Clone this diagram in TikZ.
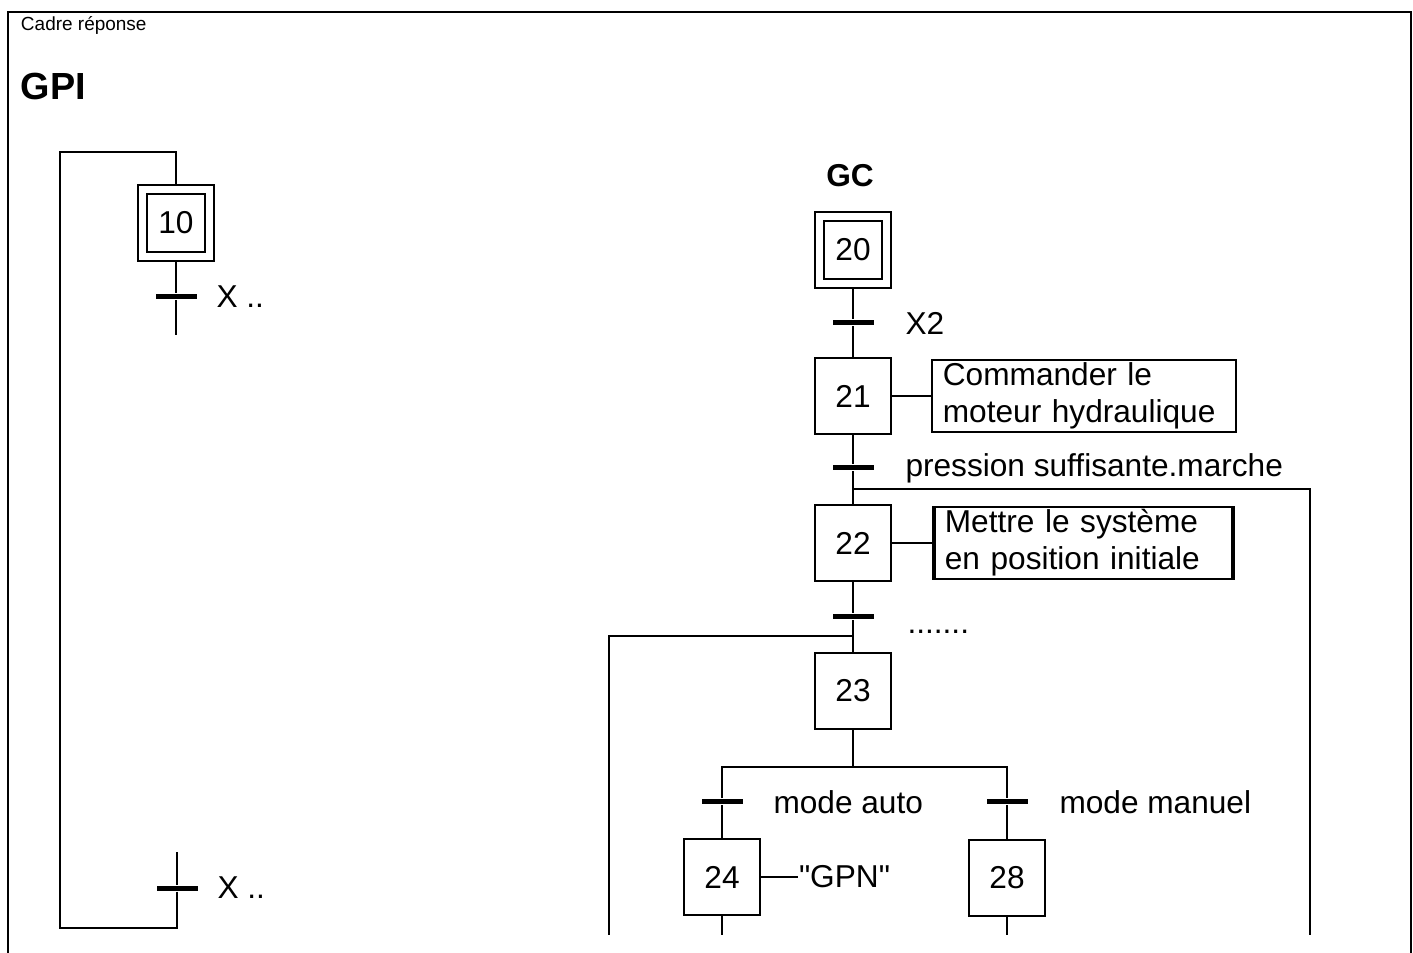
\documentclass[tikz,border=0pt]{standalone}
\usepackage{fontspec}
\setmainfont[Ligatures=TeXOff]{Liberation Sans}
\usetikzlibrary{positioning}

\tikzset{
  etape/.style={draw, line width=0.4mm, minimum size=15.2mm, inner sep=0pt, font=\fontsize{18}{21}\selectfont},
  etapeinit/.style={etape, double, double distance=1.5mm, line width=0.35mm, minimum size=13.4mm, outer sep=1.1mm},
  trans/.style={fill, minimum width=8.2mm, minimum height=1mm, inner sep=0pt},
  recep/.style={inner sep=0pt, anchor=west, font=\fontsize{18}{21}\selectfont},
  action/.style={draw, line width=0.35mm, inner xsep=2.2mm, inner ysep=0pt, minimum height=14.4mm, align=left, font=\fontsize{18}{21}\selectfont},
}

\begin{document}
\begin{tikzpicture}[x=0.2mm, y=-0.2mm, line width=0.4mm]
\useasboundingbox (0,0) rectangle (1413,953);
\draw[line width=0.3mm] (8,953) -- (8,12) -- (1411,12) -- (1411,953);

\node[anchor=west, inner sep=0pt, font=\fontsize{10.8}{13}\selectfont] (cadre) at (20,25) {Cadre réponse};
\node[anchor=west, inner sep=0pt, font=\bfseries\fontsize{21.5}{24}\selectfont] (gpi) at (20,87) {GPI};
\node[font=\bfseries\fontsize{18}{20}\selectfont] (gc) at (850,176) {GC};

% GPI
\node[etapeinit] (e10) at (176,223) {10};
\node[trans] (t10) at (176,297) {};
\node[recep, right=3.6mm of t10] (r10) {X ..};
\coordinate (f10) at (176,335);
\node[trans] (t19) at (177,888) {};
\node[recep, right=3.6mm of t19] (r19) {X ..};
\coordinate (d19) at (177,852);
\coordinate (b19) at (177,928);
\coordinate (retour) at (60,152);
\draw (e10) -- (t10) -- (f10);
\draw (d19) -- (t19) -- (b19) -| (retour) -| (e10);

% GC
\node[etapeinit] (e20) at (853,250) {20};
\node[trans] (t20) at (853,323) {};
\node[recep, right=6mm of t20] (r20) {X2};
\node[etape] (e21) at (853,396) {21};
\node[action, text width=56.4mm, right=7.8mm of e21] (a21) {Commander le\\moteur hydraulique};
\node[trans] (t21) at (853,468) {};
\node[recep, right=6mm of t21] (r21) {pression suffisante.marche};
\coordinate (j22) at (853,489);
\coordinate (b22) at (1310,935);
\node[etape] (e22) at (853,543) {22};
\node[action, inner xsep=2mm, text width=55.4mm, right=8.4mm of e22] (a22) {Mettre le système\\en position initiale};
\node[trans] (t22) at (853,617) {};
\node[recep, right=6.4mm of t22, yshift=-3mm] (r22) {.......};
\coordinate (j23) at (853,636);
\coordinate (b23) at (609,935);
\node[etape] (e23) at (853,691) {23};
\coordinate (div) at (853,767);
\node[trans] (t23a) at (722,802) {};
\node[trans] (t23b) at (1007,802) {};
\node[recep, right=5.8mm of t23a] (r23a) {mode auto};
\node[recep, right=6mm of t23b] (r23b) {mode manuel};
\node[etape] (e24) at (722,877) {24};
\node[recep, right=7.4mm of e24] (gpn) {"GPN"};
\node[etape] (e28) at (1007,878) {28};
\coordinate (f24) at (722,935);
\coordinate (f28) at (1007,935);

\draw (e20) -- (t20) -- (e21) -- (t21) -- (e22) -- (t22) -- (e23) -- (div);
\draw[line width=0.3mm] (e21) -- (a21);
\draw[line width=0.3mm] (e22) -- (a22);
\draw[line width=0.3mm] (e24) -- (gpn);
\draw[line width=0.8mm] (a22.north west) -- (a22.south west) (a22.north east) -- (a22.south east);
\draw (j22) -| (b22);
\draw (j23) -| (b23);
\draw (t23a) |- (div) -| (t23b);
\draw (t23a) -- (e24) -- (f24);
\draw (t23b) -- (e28) -- (f28);
\end{tikzpicture}
\end{document}
